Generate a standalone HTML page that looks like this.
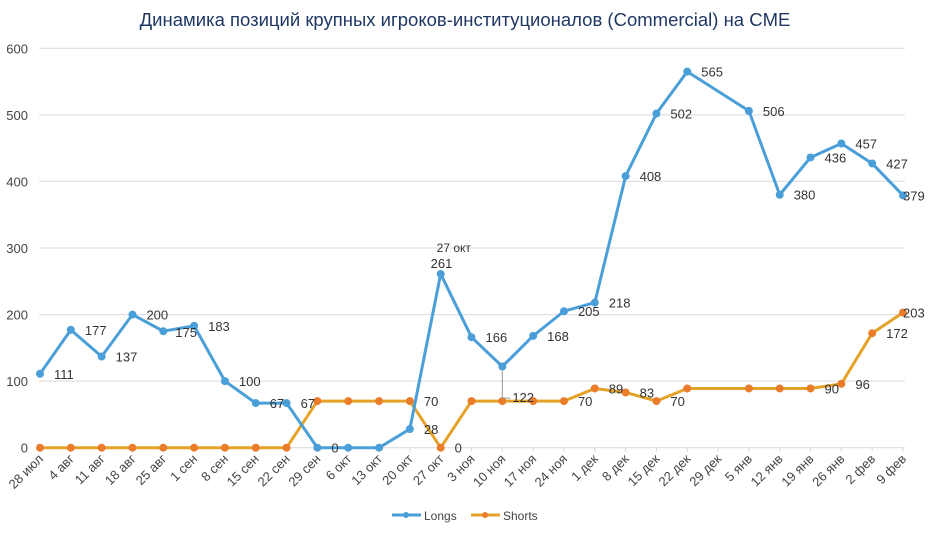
<!DOCTYPE html>
<html><head><meta charset="utf-8"><style>
body{margin:0;background:#fff;font-family:"Liberation Sans","Noto Sans CJK SC",sans-serif}
svg text{font-family:"Liberation Sans","Noto Sans CJK SC",sans-serif}
</style></head><body>
<svg id="chart" width="930" height="531">
<text x="465" y="26" text-anchor="middle" font-size="18.5" fill="#1f3864">Динамика позиций крупных игроков-институционалов (Commercial) на CME</text>
<g id="grid"></g><g id="xlab"></g><g id="series"></g>
<g>
<g><line x1="392" y1="515" x2="421" y2="515" stroke="#4a9fd8" stroke-width="3"/><circle cx="406" cy="515" r="3" fill="#4a9fd8"/><text x="424" y="520" font-size="12" fill="#444">Longs</text></g>
<g><line x1="471" y1="515" x2="500" y2="515" stroke="#e4a228" stroke-width="3"/><circle cx="485" cy="515" r="3" fill="#ea7d2c"/><text x="503" y="520" font-size="12" fill="#444">Shorts</text></g>
</g>
</svg>
<script>
const categories=["28 июл","4 авг","11 авг","18 авг","25 авг","1 сен","8 сен","15 сен","22 сен","29 сен","6 окт","13 окт","20 окт","27 окт","3 ноя","10 ноя","17 ноя","24 ноя","1 дек","8 дек","15 дек","22 дек","29 дек","5 янв","12 янв","19 янв","26 янв","2 фев","9 фев"];
const longs=[111,177,137,200,175,183,100,67,67,0,0,0,28,261,166,122,168,205,218,408,502,565,null,506,380,436,457,427,379];
const shorts=[0,0,0,0,0,0,0,0,0,70,70,70,70,0,70,70,70,70,89,83,70,89,null,89,89,89,96,172,203];
const shortsLabeled=[12,13,17,18,19,20,25,26,27,28];
const shortsLabels=["70","0","70","89","83","70","90","96","172","203"];
const yTicks=[0,100,200,300,400,500,600];
const X0=40,X1=903,Y0=447.7,Y1=48.3;
const xs=i=>X0+(X1-X0)*i/(categories.length-1);
const ys=v=>Y0-(Y0-Y1)*v/600;
const NS="http://www.w3.org/2000/svg";
function mk(t,a,p){const e=document.createElementNS(NS,t);for(const k in a)e.setAttribute(k,a[k]);p.appendChild(e);return e;}
const grid=document.getElementById('grid'),xlab=document.getElementById('xlab'),ser=document.getElementById('series');
yTicks.forEach(v=>{
 const l=mk('line',{x1:39,x2:905,y1:ys(v),y2:ys(v),stroke:'#d9d9d9','stroke-width':1},grid);
 
 
 const t=mk('text',{x:28,y:ys(v)+5,'text-anchor':'end','font-size':13,fill:'#444'},grid);t.textContent=v;
 
 
});
categories.forEach((c,i)=>{
 mk('line',{x1:xs(i),x2:xs(i),y1:Y0,y2:Y0+4,stroke:'#d9d9d9'},grid);
 const t=mk('text',{x:xs(i)+4,y:Y0+12,'text-anchor':'end','font-size':13,fill:'#444',transform:`rotate(-45 ${xs(i)+4} ${Y0+12})`},xlab);t.textContent=c;
 
 
});
function draw(vals,lineCol,ptCol,name){
 const pts=vals.map((v,i)=>v==null?null:[xs(i),ys(v)]).filter(p=>p);
 const pl=mk('polyline',{points:pts.map(p=>p.join(',')).join(' '),fill:'none',stroke:lineCol,'stroke-width':3,'stroke-linejoin':'round'},ser);
 
 
 vals.forEach((v,i)=>{if(v==null)return;
  const c=mk('circle',{cx:xs(i),cy:ys(v),r:4,fill:ptCol},ser);
  
  
 });
}
draw(shorts,'#e4a228','#ea7d2c','shorts');
draw(longs,'#4a9fd8','#4a9fd8','longs');
// leader line for 10 ноя longs label
const ld=mk('polyline',{points:`${xs(15)},${ys(longs[15])+4} ${xs(15)},${ys(70)-3} ${xs(15)+8},${ys(70)-3}`,fill:'none',stroke:'#999','stroke-width':1},ser);


longs.forEach((v,i)=>{if(v==null||i==10||i==11)return;
 let dx=14,dy=5,y=ys(v);
 if(i==13){dx=-10;dy=-6;}
 if(i==28){dx=0;dy=5;}
 if(i==4){dx=12;dy=6;}
 if(i==15){dx=10;y=ys(70);dy=1;}
 const t=mk('text',{x:xs(i)+dx,y:y+dy,'font-size':13,fill:'#333'},ser);t.textContent=v;
 
 
});
const t27=mk('text',{x:xs(13)-4,y:ys(longs[13])-22,'font-size':12,fill:'#333'},ser);t27.textContent='27 окт';


shortsLabeled.forEach((i,k)=>{
 let dx=14,dy=5;
 if(i==28){dx=0;}
 const t=mk('text',{x:xs(i)+dx,y:ys(shorts[i])+dy,'font-size':13,fill:'#333'},ser);t.textContent=shortsLabels[k];
 
 
});
</script>
</body></html>
